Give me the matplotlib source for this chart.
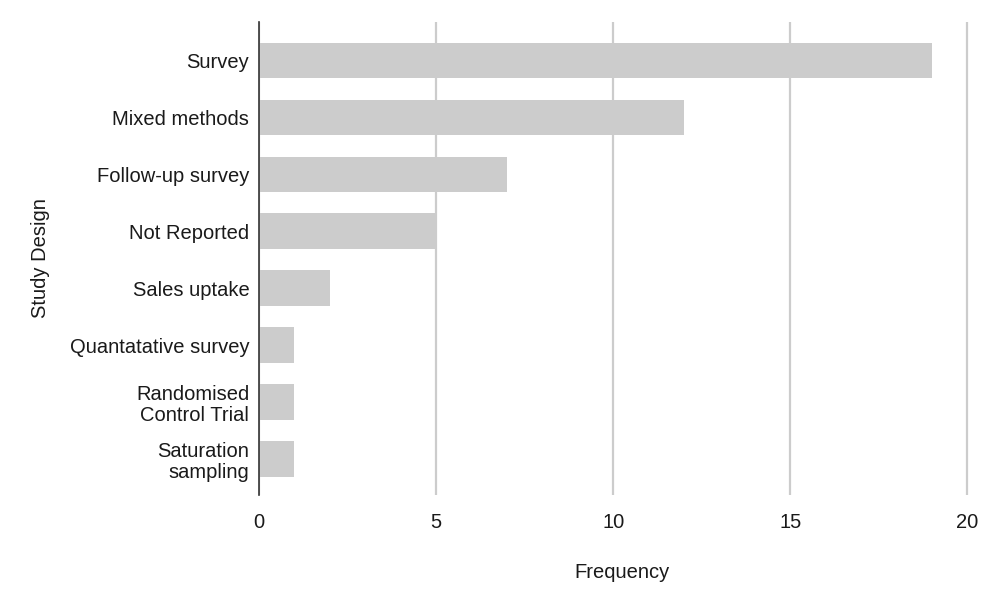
import matplotlib.pyplot as plt

designs = ["Survey", "Mixed methods", "Follow-up survey", "Not Reported",
           "Sales uptake", "Quantatative survey", "Randomised\nControl Trial",
           "Saturation\nsampling"]
freq = [19, 12, 7, 5, 2, 1, 1, 1]
x_ticks = [0, 5, 10, 15, 20]

BAR = "#cccccc"
GRID = "#cccccc"
TEXT = "#1a1a1a"

plt.rcParams["font.family"] = ["Liberation Sans", "DejaVu Sans"]

fig = plt.figure(figsize=(10, 5.97), dpi=100)
ax = fig.add_axes([0.259, 0.171, 0.726, 0.792])

ypos = list(range(len(designs)))
ax.barh(ypos, freq, height=0.62, color=BAR, zorder=2)

ax.set_xlim(0, 20.5)
ax.set_ylim(7.63, -0.67)
ax.set_xticks(x_ticks)
ax.set_yticks(ypos)
ax.set_yticklabels(designs, fontsize=14.5, color=TEXT, ha="right", linespacing=1.1)
ax.tick_params(axis="x", labelsize=14.5, labelcolor=TEXT, length=0, pad=13)
ax.tick_params(axis="y", length=0, pad=7)

for s in ["top", "right", "bottom"]:
    ax.spines[s].set_visible(False)
ax.spines["left"].set_color("#333333")
ax.spines["left"].set_linewidth(1.2)
ax.spines["left"].set_zorder(3)

ax.grid(axis="x", color=GRID, linewidth=1.6, zorder=0)
ax.set_axisbelow(True)

ax.set_xlabel("Frequency", fontsize=14.5, color=TEXT, labelpad=22)
ax.set_ylabel("Study Design", fontsize=14.5, color=TEXT, labelpad=14)

fig.savefig("out.png", dpi=100, facecolor="white")
